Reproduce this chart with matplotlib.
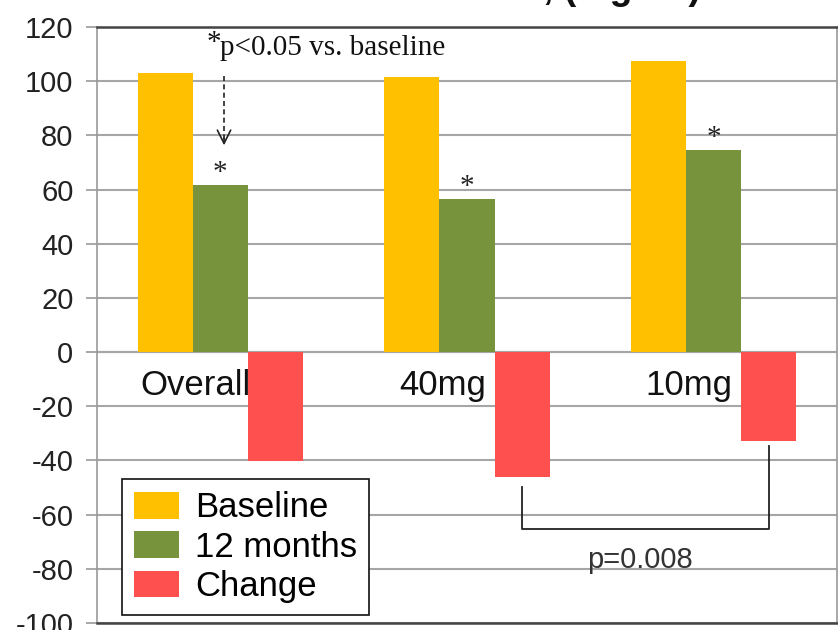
import numpy as np
import matplotlib.pyplot as plt

plt.rcParams['font.family'] = ['Liberation Sans', 'DejaVu Sans']
plt.rcParams['axes.unicode_minus'] = False

groups = ["Overall", "40mg", "10mg"]
baseline = [103, 101.5, 107.5]
months12 = [61.5, 56.5, 74.5]
change = [-40.3, -46, -33]
y_ticks = [-100, -80, -60, -40, -20, 0, 20, 40, 60, 80, 100, 120]

c_base = "#FFC000"
c_12 = "#77933C"
c_chg = "#FF5050"

fig = plt.figure(figsize=(8.38, 6.3), dpi=100)
ax = fig.add_axes([97 / 838, 7 / 630, 740 / 838, 596 / 630])

x = np.arange(len(groups))
w = 0.223
ax.bar(x - w, baseline, w, color=c_base, label="Baseline", zorder=3)
ax.bar(x, months12, w, color=c_12, label="12 months", zorder=3)
ax.bar(x + w, change, w, color=c_chg, label="Change", zorder=3)

ax.set_xlim(-0.5, 2.5)
ax.set_ylim(-100, 120)
ax.set_yticks(y_ticks)
ax.set_xticks([])
ax.tick_params(axis='y', labelsize=21, length=8, width=1.2, color="#999999",
               labelcolor="#222222", pad=9)
ax.grid(axis='y', color="#a6a6a6", linewidth=1.5, zorder=0)
ax.axhline(0, color="#a6a6a6", linewidth=1.5, zorder=1)
for s in ["left", "right"]:
    ax.spines[s].set_color("#999999")
    ax.spines[s].set_linewidth(1.2)
for s in ["top", "bottom"]:
    ax.spines[s].set_color("#444444")
    ax.spines[s].set_linewidth(1.8)

# category labels just below zero
for i, g in enumerate(groups):
    ax.text(i - 0.1, -15.9, g, ha='center', va='baseline', fontsize=25,
            color="#111111")

# significance stars above 12-month bars
for i, v in enumerate(months12):
    ax.text(i, v + 2, "*", ha='center', va='baseline', fontsize=21,
            family='Liberation Serif', color="#222222")

# footnote with arrow
ax.text(0.0, 109.6, "p<0.05 vs. baseline", ha='left', va='baseline',
        fontsize=21, family='Liberation Serif', color="#111111")
ax.text(0.003, 111.5, "*", ha='right', va='baseline', fontsize=21,
        family='Liberation Serif', color="#111111")
ax.plot([0.015, 0.015], [102, 78], color="#222222", linestyle=(0, (3, 2)),
        linewidth=1.2, zorder=4)
ax.annotate("", xy=(0.015, 75.3), xytext=(0.015, 80),
            arrowprops=dict(arrowstyle="->", color="#222222", lw=1.2,
                            mutation_scale=24), zorder=4)

# bracket between 40mg and 10mg change
ax.plot([1 + w, 1 + w, 2 + w, 2 + w], [-49.8, -65.3, -65.3, -34.7],
        color="#222222", linewidth=1.3, zorder=4)
ax.text(1.70, -79.7, "p=0.008", ha='center', va='baseline', fontsize=21,
        color="#333333")

leg = ax.legend(loc='lower left', bbox_to_anchor=(0.034, 0.0134), fontsize=25,
                frameon=True, fancybox=False, framealpha=1, edgecolor="#111111",
                handlelength=1.3, handleheight=0.8, handletextpad=0.45,
                labelspacing=0.18, borderpad=0.35, borderaxespad=0)
leg.get_frame().set_linewidth(1.2)

# cropped slide title
fig.text(543 / 838, 1 + 1 / 630, ", (mg/dL)", ha='left', va='baseline',
         fontsize=27, fontweight='bold', color="#111111")

fig.savefig("out.png", dpi=100)
